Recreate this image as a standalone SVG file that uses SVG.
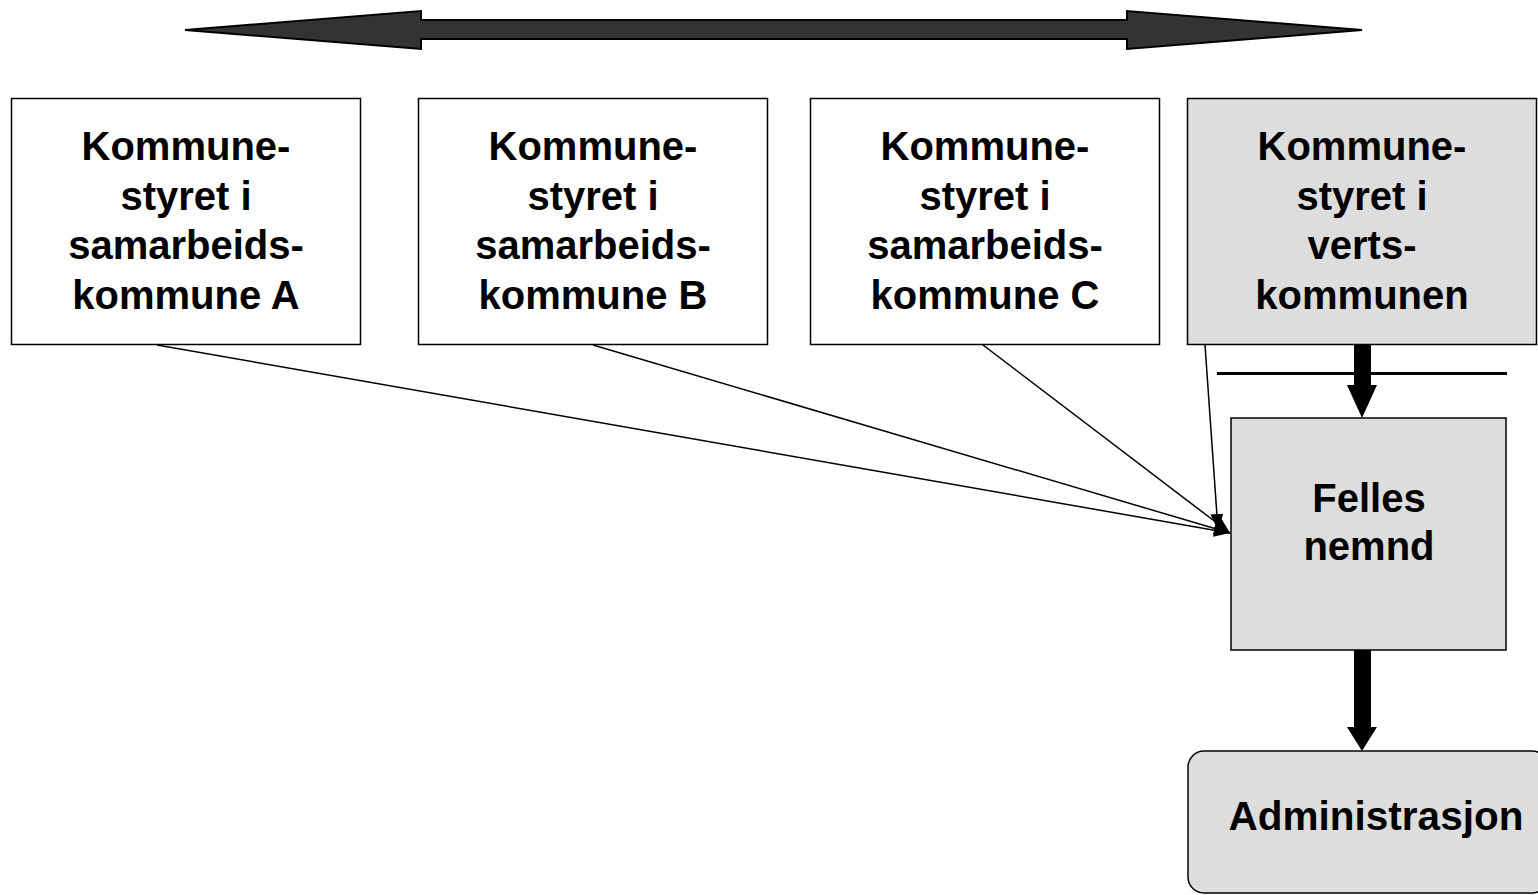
<svg xmlns="http://www.w3.org/2000/svg" width="1538" height="895" viewBox="0 0 1538 895">
<style>
.box{stroke:#000;stroke-width:1.5}
.w{fill:#fff}
.g{fill:#dddddd}
.t{font-family:"Liberation Sans",Arial,sans-serif;font-weight:bold;font-size:40px;fill:#000;text-anchor:middle}
.thin{stroke:#000;stroke-width:1.5;fill:none}
.thick{fill:#000;stroke:none}
</style>
<defs>
<marker id="ah" viewBox="0 0 16 13" refX="16" refY="6.5" markerWidth="16" markerHeight="13" markerUnits="userSpaceOnUse" orient="auto">
<path d="M0,0 L16,6.5 L0,13 Z" fill="#000"/>
</marker>
</defs>
<rect width="1538" height="895" fill="#fff"/>
<g id="double-arrow">
<polygon points="185,30 421,11 421,20 1127,20 1127,11 1362,30 1127,49 1127,39 421,39 421,49" fill="#333333" stroke="#000" stroke-width="2" stroke-linejoin="miter"/>
</g>
<g id="connectors">
<line class="thin" x1="157" y1="345" x2="1230" y2="533" marker-end="url(#ah)"/>
<line class="thin" x1="593" y1="345" x2="1230" y2="533" marker-end="url(#ah)"/>
<line class="thin" x1="983" y1="345" x2="1230" y2="533" marker-end="url(#ah)"/>
<line class="thin" x1="1205" y1="345" x2="1218" y2="530" marker-end="url(#ah)"/>
<line x1="1217" y1="373.5" x2="1507" y2="373.5" stroke="#000" stroke-width="3"/>
<polygon class="thick" points="1354,345 1371,345 1371,385 1377,385 1362,418 1347,385 1354,385"/>
<polygon class="thick" points="1354,650 1371,650 1371,727 1377,727 1362,751 1347,727 1354,727"/>
</g>
<g id="node-a">
<rect class="box w" x="11.5" y="98.5" width="349" height="246"/>
<text class="t" x="186" y="160">Kommune-</text>
<text class="t" x="186" y="209.5">styret i</text>
<text class="t" x="186" y="259">samarbeids-</text>
<text class="t" x="186" y="308.5">kommune A</text>
</g>
<g id="node-b">
<rect class="box w" x="418.5" y="98.5" width="349" height="246"/>
<text class="t" x="593" y="160">Kommune-</text>
<text class="t" x="593" y="209.5">styret i</text>
<text class="t" x="593" y="259">samarbeids-</text>
<text class="t" x="593" y="308.5">kommune B</text>
</g>
<g id="node-c">
<rect class="box w" x="810.5" y="98.5" width="349" height="246"/>
<text class="t" x="985" y="160">Kommune-</text>
<text class="t" x="985" y="209.5">styret i</text>
<text class="t" x="985" y="259">samarbeids-</text>
<text class="t" x="985" y="308.5">kommune C</text>
</g>
<g id="node-host">
<rect class="box g" x="1187.5" y="98.5" width="349" height="246"/>
<text class="t" x="1362" y="160">Kommune-</text>
<text class="t" x="1362" y="209.5">styret i</text>
<text class="t" x="1362" y="259">verts-</text>
<text class="t" x="1362" y="308.5">kommunen</text>
</g>
<g id="node-felles">
<rect class="box g" x="1231" y="418" width="275" height="232" stroke-width="2"/>
<text class="t" x="1369" y="512">Felles</text>
<text class="t" x="1369" y="560">nemnd</text>
</g>
<g id="node-admin">
<rect class="box g" x="1188" y="751" width="360" height="142" rx="16" ry="16"/>
<text class="t" x="1376" y="830" style="font-size:40.5px">Administrasjon</text>
</g>
</svg>
